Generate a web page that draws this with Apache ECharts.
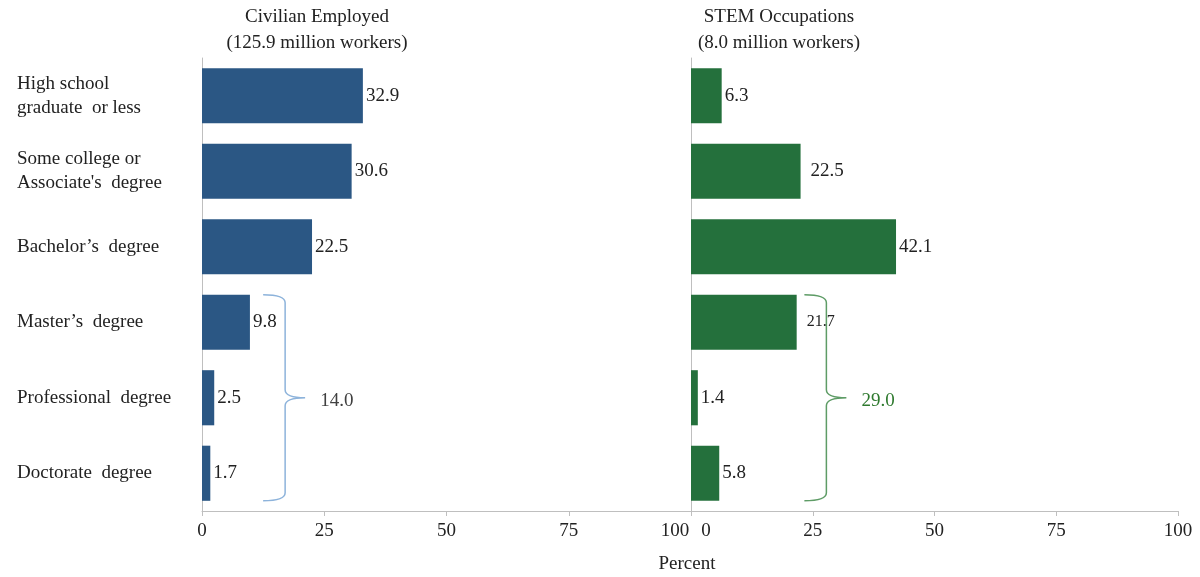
<!DOCTYPE html>
<html>
<head>
<meta charset="utf-8">
<script src="https://cdn.jsdelivr.net/npm/echarts@6/dist/echarts.min.js"></script>
<style>
  html, body { margin: 0; padding: 0; background: #fff; }
  #chart { width: 1200px; height: 577px; }
</style>
</head>
<body>
<div id="chart"></div>
<script>
// education levels, top to bottom
const categories = [
  'High school\ngraduate  or less',
  'Some college or\nAssociate\'s  degree',
  'Bachelor’s  degree',
  'Master’s  degree',
  'Professional  degree',
  'Doctorate  degree'
]
const civilianPct = [32.9, 30.6, 22.5, 9.8, 2.5, 1.7]
const stemPct = [6.3, 22.5, 42.1, 21.7, 1.4, 5.8]
const xTickValues = [0, 25, 50, 75, 100]

// bracket over Master's..Doctorate rows, with the summed share
const braceFirstRow = 3
const braceLastRow = 5
const civilianAdvanced = 14.0
const stemAdvanced = 29.0
const civilianBraceAt = 17
const stemBraceAt = 27.8

const FONT = '"Liberation Serif", "Times New Roman", serif'
const TEXT = '#222'
const BLUE = '#2b5784'
const GREEN = '#24703c'
const AXIS = '#bfbfbf'
const BAR_SHARE = 0.73

const chart = echarts.init(document.getElementById('chart'))

function xAxisFor(gridIndex, side) {
  return {
    type: 'value',
    gridIndex,
    min: xTickValues[0],
    max: xTickValues[xTickValues.length - 1],
    interval: xTickValues[1] - xTickValues[0],
    splitLine: { show: false },
    axisLine: { show: true, lineStyle: { color: AXIS, width: 1 } },
    axisTick: { show: true, length: 5, lineStyle: { color: AXIS } },
    axisLabel: {
      margin: 11,
      color: TEXT,
      fontFamily: FONT,
      fontSize: 19,
      formatter: (v) => {
        if (side === 'left' && v === 100) return '{l|100}'
        if (side === 'right' && v === 0) return '{r|0}'
        return String(v)
      },
      rich: {
        l: { fontFamily: FONT, fontSize: 19, color: TEXT, padding: [0, 32, 0, 0] },
        r: { fontFamily: FONT, fontSize: 19, color: TEXT, padding: [0, 0, 0, 30] }
      }
    }
  }
}

function yAxisFor(gridIndex, showLabels) {
  return {
    type: 'category',
    gridIndex,
    inverse: true,
    data: categories,
    axisLine: { show: true, lineStyle: { color: AXIS, width: 1 } },
    axisTick: { show: false },
    axisLabel: {
      show: showLabels,
      align: 'left',
      margin: 185,
      color: TEXT,
      fontFamily: FONT,
      fontSize: 19,
      lineHeight: 24
    }
  }
}

function barSeries(idx, values, color) {
  return {
    type: 'bar',
    xAxisIndex: idx,
    yAxisIndex: idx,
    barWidth: BAR_SHARE * 100 + '%',
    itemStyle: { color },
    data: values.map((v) => {
      const item = { value: v }
      // the STEM master's value is printed smaller in the source
      if (idx === 1 && v === 21.7) {
        item.label = { fontSize: 16, distance: 10 }
      }
      if (idx === 1 && v === 22.5) {
        item.label = { distance: 10 }
      }
      return item
    }),
    label: {
      show: true,
      position: 'right',
      distance: 3,
      color: TEXT,
      fontFamily: FONT,
      fontSize: 19,
      formatter: (p) => p.value.toFixed(1)
    }
  }
}

function braceSeries(idx, braceAt, total, color, labelColor) {
  return {
    type: 'custom',
    xAxisIndex: idx,
    yAxisIndex: idx,
    clip: false,
    silent: true,
    data: [[braceAt, braceFirstRow, braceLastRow, total]],
    renderItem: (params, api) => {
      const top = api.coord([api.value(0), api.value(1)])
      const bot = api.coord([api.value(0), api.value(2)])
      const half = api.size([0, 1])[1] * BAR_SHARE / 2
      const x = top[0]
      const yT = top[1] - half
      const yB = bot[1] + half
      const yM = (yT + yB) / 2
      const x0 = x - 22
      const xt = x + 20
      const r = 8
      const path = [
        'M', x0, yT,
        'Q', x, yT, x, yT + r,
        'L', x, yM - r,
        'Q', x, yM, xt, yM,
        'M', x, yM - r,
        'Q', x, yM, xt, yM,
        'Q', x, yM, x, yM + r,
        'L', x, yB - r,
        'Q', x, yB, x0, yB
      ].join(' ')
      return {
        type: 'group',
        children: [
          {
            type: 'path',
            shape: { pathData: path },
            style: { fill: 'none', stroke: color, lineWidth: 1.5 }
          },
          {
            type: 'text',
            style: {
              text: api.value(3).toFixed(1),
              x: xt + 15,
              y: yM + 3,
              verticalAlign: 'middle',
              fill: labelColor,
              font: '19px ' + FONT
            }
          }
        ]
      }
    }
  }
}

const option = {
  backgroundColor: '#fff',
  animation: false,
  grid: [
    { left: 202, width: 489, top: 58, bottom: 66 },
    { left: 691, width: 487, top: 58, bottom: 66 }
  ],
  xAxis: [xAxisFor(0, 'left'), xAxisFor(1, 'right')],
  yAxis: [yAxisFor(0, true), yAxisFor(1, false)],
  graphic: [
    {
      type: 'text',
      x: 317,
      y: 4,
      style: {
        text: 'Civilian Employed\n(125.9 million workers)',
        align: 'center',
        lineHeight: 26,
        fill: TEXT,
        font: '19px ' + FONT
      }
    },
    {
      type: 'text',
      x: 779,
      y: 4,
      style: {
        text: 'STEM Occupations\n(8.0 million workers)',
        align: 'center',
        lineHeight: 26,
        fill: TEXT,
        font: '19px ' + FONT
      }
    },
    {
      type: 'text',
      x: 687,
      y: 555,
      style: {
        text: 'Percent',
        align: 'center',
        fill: TEXT,
        font: '19px ' + FONT
      }
    }
  ],
  series: [
    barSeries(0, civilianPct, BLUE),
    barSeries(1, stemPct, GREEN),
    braceSeries(0, civilianBraceAt, civilianAdvanced, '#8db3db', '#404040'),
    braceSeries(1, stemBraceAt, stemAdvanced, '#5e9c66', '#2f7a2f')
  ]
}

chart.setOption(option)
</script>
</body>
</html>
